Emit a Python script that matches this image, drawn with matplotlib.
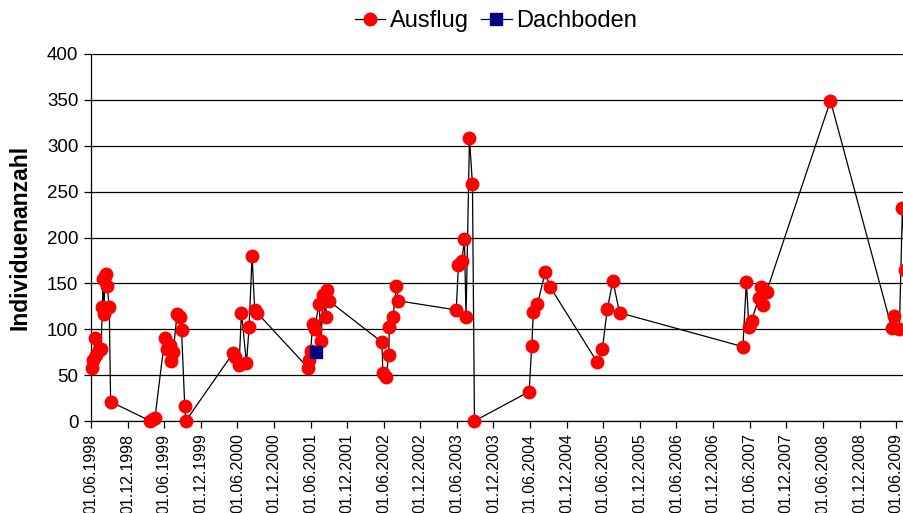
import matplotlib
matplotlib.use("Agg")
import matplotlib.pyplot as plt
import matplotlib.dates as mdates
import pandas as pd

plt.rcParams["font.family"] = ["Liberation Sans", "DejaVu Sans"]

# Ausflug counts (date, individuals)
ausflug_dates = [
    "08.06.1998", "13.06.1998", "21.06.1998", "28.06.1998", "11.07.1998", "21.07.1998", "28.07.1998",
    "31.07.1998", "05.08.1998", "10.08.1998", "15.08.1998", "21.08.1998", "31.08.1998", "07.09.1998",
    "24.03.1999", "06.04.1999", "16.04.1999", "04.06.1999", "16.06.1999", "29.06.1999", "03.07.1999",
    "16.07.1999", "05.08.1999", "18.08.1999", "27.08.1999", "12.09.1999", "17.09.1999",
    "10.05.2000", "19.05.2000", "09.06.2000", "21.06.2000", "16.07.2000", "29.07.2000", "13.08.2000",
    "26.08.2000", "07.09.2000",
    "19.05.2001", "25.05.2001", "01.06.2001", "12.06.2001", "21.06.2001", "13.07.2001", "24.07.2001",
    "01.08.2001", "15.08.2001", "21.08.2001", "31.08.2001",
    "23.05.2002", "28.05.2002", "13.06.2002", "26.06.2002", "29.06.2002", "17.07.2002", "03.08.2002",
    "13.08.2002",
    "29.05.2003", "09.06.2003", "26.06.2003", "09.07.2003", "17.07.2003", "03.08.2003", "18.08.2003",
    "28.08.2003",
    "27.05.2004", "09.06.2004", "17.06.2004", "07.07.2004", "15.08.2004", "09.09.2004",
    "02.05.2005", "27.05.2005", "21.06.2005", "19.07.2005", "21.08.2005",
    "29.04.2007", "16.05.2007", "29.05.2007", "11.06.2007", "17.07.2007", "29.07.2007", "08.08.2007",
    "25.08.2007",
    "09.07.2008",
    "11.05.2009", "20.05.2009", "18.06.2009", "03.07.2009", "17.07.2009",
]
ausflug_values = [
    58, 66, 91, 72, 77, 78, 124, 155, 117, 158, 160, 147, 124, 21,
    0, 2, 3, 90, 78, 83, 65, 75, 117, 113, 99, 16, 0,
    74, 70, 61, 118, 63, 102, 180, 121, 118,
    58, 66, 76, 106, 100, 128, 87, 137, 113, 143, 131,
    86, 52, 48, 72, 102, 113, 147, 131,
    121, 170, 174, 198, 113, 308, 258, 0,
    32, 82, 119, 127, 162, 146,
    64, 78, 122, 153, 118,
    81, 152, 102, 109, 134, 146, 126, 141,
    349,
    101, 114, 100, 232, 165,
]

# Dachboden counts
dachboden_dates = ["29.06.2001"]
dachboden_values = [75]

x_a = pd.to_datetime(ausflug_dates, format="%d.%m.%Y")
x_d = pd.to_datetime(dachboden_dates, format="%d.%m.%Y")

fig = plt.figure(figsize=(9.04, 5.13), dpi=100)
ax = fig.add_axes([91 / 904, 1 - 421 / 513, 1 - 91 / 904, (421 - 54) / 513])

ax.plot(x_a, ausflug_values, color="black", lw=0.9, marker="o", ms=9,
        mfc="#ff0000", mec="#ff0000", label="Ausflug", clip_on=False, zorder=3)
ax.plot(x_d, dachboden_values, color="#000080", lw=0.9, marker="s", ms=8,
        mfc="#000080", mec="#000080", label="Dachboden", clip_on=False, zorder=4)

ax.set_ylim(0, 400)
ax.set_yticks(range(0, 401, 50))
ax.set_xlim(pd.Timestamp("1998-06-01"), pd.Timestamp("2009-07-11"))
ticks = pd.date_range("1998-06-01", "2009-06-01", freq="6MS")
ax.set_xticks(ticks)
ax.xaxis.set_major_formatter(mdates.DateFormatter("%d.%m.%Y"))
plt.setp(ax.get_xticklabels(), rotation=90, fontsize=11.5)
ax.tick_params(axis="y", labelsize=13.5, length=5, width=0.9, pad=4, direction="out")
ax.tick_params(axis="x", length=5, width=0.9, pad=4, direction="out")

ax.grid(axis="y", color="black", lw=0.9)
ax.set_axisbelow(True)
for s in ["top", "right"]:
    ax.spines[s].set_visible(False)
ax.spines["left"].set_linewidth(0.9)
ax.spines["bottom"].set_linewidth(0.9)

ax.set_ylabel("Individuenanzahl", fontsize=16.5, fontweight="bold")
ax.yaxis.set_label_coords(-0.073, 0.5)

fig.legend(loc="center", bbox_to_anchor=(496 / 904, 1 - 21 / 513), ncol=2, frameon=False,
           fontsize=17, handlelength=1.3, handletextpad=0.2, columnspacing=0.5, borderpad=0)

fig.savefig("out.png", dpi=100)
